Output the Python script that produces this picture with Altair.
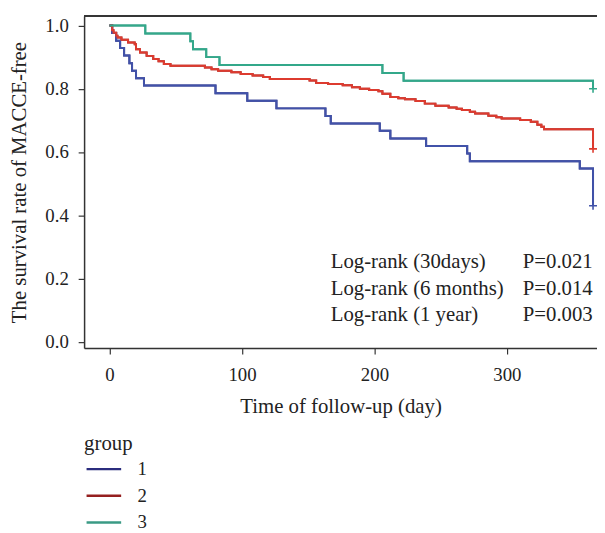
import altair as alt
import pandas as pd

# Kaplan-Meier step data
g1_time = [0, 2, 5, 8, 11, 15, 17, 20, 26, 80, 104, 126, 163, 167, 204, 212, 239, 270, 272, 355, 365]
g1_surv = [1.0, 0.976, 0.952, 0.929, 0.905, 0.881, 0.857, 0.833, 0.81, 0.786, 0.762, 0.738,
           0.714, 0.69, 0.667, 0.643, 0.619, 0.595, 0.571, 0.548, 0.43]

g2_time = [0, 2, 3, 5, 6, 9, 14, 19, 20, 23, 28, 33, 37, 41, 46, 72, 77, 82, 92, 99, 108, 116,
           121, 151, 156, 165, 176, 183, 189, 196, 203, 206, 212, 218, 223, 231, 238, 246, 256,
           262, 266, 272, 276, 286, 292, 296, 310, 318, 323, 326, 328, 365]
g2_surv = [1.0, 0.985, 0.977, 0.968, 0.962, 0.955, 0.946, 0.941, 0.925, 0.915, 0.904, 0.894,
           0.887, 0.878, 0.873, 0.867, 0.862, 0.857, 0.852, 0.847, 0.842, 0.837, 0.831, 0.826,
           0.818, 0.815, 0.811, 0.805, 0.80, 0.796, 0.792, 0.784, 0.774, 0.77, 0.767, 0.761,
           0.753, 0.746, 0.741, 0.737, 0.7325, 0.727, 0.722, 0.715, 0.71, 0.706, 0.701, 0.696,
           0.686, 0.68, 0.672, 0.61]

g3_time = [0, 27, 61, 63, 73, 83, 206, 222, 365]
g3_surv = [1.0, 0.975, 0.95, 0.925, 0.90, 0.875, 0.85, 0.825, 0.80]

groups = ["1", "2", "3"]
line_colors = ["#4152A9", "#DD3B2F", "#33A88A"]
legend_colors = ["#2B2D7E", "#952020", "#3A9A85"]

censor_time = [365, 365, 365]
censor_surv = [0.43, 0.61, 0.80]

ann_left = ["Log-rank (30days)", "Log-rank (6 months)", "Log-rank (1 year)"]
ann_right = ["P=0.021", "P=0.014", "P=0.003"]
ann_y = [0.253, 0.168, 0.083]
ann_x_left = 167
ann_x_right = 312

y_ticks = [0.0, 0.2, 0.4, 0.6, 0.8, 1.0]
x_ticks = [0, 100, 200, 300]

FONT = "Liberation Serif"
TXT = "#222222"
FRAME = "#333333"

rows = []
for g, ts, ss in zip(groups, [g1_time, g2_time, g3_time], [g1_surv, g2_surv, g3_surv]):
    for t, s in zip(ts, ss):
        rows.append({"time": t, "surv": s, "group": g})
km = pd.DataFrame(rows)

cens = pd.DataFrame({"time": censor_time, "surv": censor_surv, "group": groups})
ann = pd.DataFrame({"left": ann_left, "right": ann_right, "y": ann_y,
                    "xl": [ann_x_left] * 3, "xr": [ann_x_right] * 3})

W, H = 519, 336

x_scale = alt.Scale(domain=[-19.2, 368], nice=False, zero=False)
y_scale = alt.Scale(domain=[-0.02, 1.03], nice=False, zero=False)

x_axis = alt.Axis(values=x_ticks, title="Time of follow-up (day)", grid=False,
                  domain=True, domainColor=FRAME, domainWidth=1.5,
                  tickSize=6, tickColor=FRAME, tickWidth=1.2, labelPadding=12,
                  labelFont=FONT, labelFontSize=19, labelColor=TXT,
                  titleFont=FONT, titleFontSize=21, titleFontWeight="normal", titleColor=TXT,
                  titleY=59, titleBaseline="middle")
y_axis = alt.Axis(values=y_ticks, format=".1f", title="The survival rate of MACCE-free",
                  grid=False, domain=True, domainColor=FRAME, domainWidth=1.5,
                  tickSize=6, tickColor=FRAME, tickWidth=1.2,
                  labelPadding=10, labelFont=FONT, labelFontSize=19, labelColor=TXT,
                  titleFont=FONT, titleFontSize=21, titleFontWeight="normal", titleColor=TXT,
                  titleX=-65, titleY=H / 2, titleAngle=270, titleAlign="center",
                  titleBaseline="middle")

base = alt.Chart(km)

legend_layer = base.mark_line(interpolate="step-after", strokeWidth=2).encode(
    x=alt.X("time:Q", scale=x_scale, axis=x_axis),
    y=alt.Y("surv:Q", scale=y_scale, axis=y_axis),
    color=alt.Color("group:N", scale=alt.Scale(domain=groups, range=legend_colors),
                    legend=alt.Legend(title="group", orient="none", legendX=0, legendY=422,
                                      symbolType="M-1,0H4", symbolSize=196,
                                      symbolStrokeWidth=2.5, labelOffset=35,
                                      titleFont=FONT, titleFontSize=21,
                                      titleFontWeight="normal", titleColor=TXT,
                                      labelFont=FONT, labelFontSize=19, labelColor=TXT,
                                      padding=0, rowPadding=7, titlePadding=6)),
    detail="group:N",
)

line_layer = base.mark_line(interpolate="step-after", strokeWidth=2).encode(
    x=alt.X("time:Q", scale=x_scale),
    y=alt.Y("surv:Q", scale=y_scale),
    stroke=alt.Stroke("group:N", scale=alt.Scale(domain=groups, range=line_colors),
                      legend=None),
    detail="group:N",
)

cens_layer = alt.Chart(cens).mark_point(shape="M-1,0H1M0,-1V1", filled=False, size=64,
                                        strokeWidth=1.6, opacity=1).encode(
    x=alt.X("time:Q", scale=x_scale),
    y=alt.Y("surv:Q", scale=y_scale),
    stroke=alt.Stroke("group:N", scale=alt.Scale(domain=groups, range=line_colors),
                      legend=None),
)

top_frame = alt.Chart(ann).mark_rule(color=FRAME, strokeWidth=1.5).encode(
    x=alt.value(0), x2=alt.value(W), y=alt.value(0))

ann_l = alt.Chart(ann).mark_text(align="left", baseline="middle", font=FONT, fontSize=21,
                                 color=TXT).encode(
    x=alt.X("xl:Q", scale=x_scale), y=alt.Y("y:Q", scale=y_scale), text="left:N")
ann_r = alt.Chart(ann).mark_text(align="left", baseline="middle", font=FONT, fontSize=21,
                                 color=TXT).encode(
    x=alt.X("xr:Q", scale=x_scale), y=alt.Y("y:Q", scale=y_scale), text="right:N")

chart = alt.layer(legend_layer, line_layer, cens_layer, top_frame, ann_l, ann_r).resolve_scale(
    color="independent", stroke="shared"
).properties(
    width=W, height=H,
    autosize=alt.AutoSizeParams(type="none"),
    padding={"left": 77, "top": 5, "right": 0, "bottom": 184},
).configure_view(stroke=None).configure(background="white")

chart.save("out.html", embed_options={"renderer": "svg", "actions": False})
